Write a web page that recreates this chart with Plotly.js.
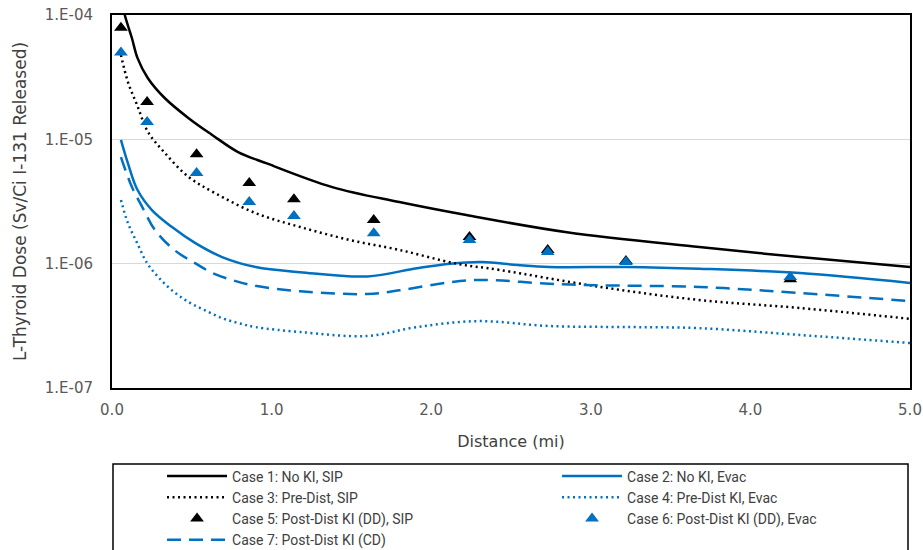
<!DOCTYPE html>
<html>
<head>
<meta charset="utf-8">
<script src="https://cdn.plot.ly/plotly-3.0.1.min.js"></script>
<style>html,body{margin:0;padding:0;background:#fff;}#chart{width:923px;height:550px;}</style>
</head>
<body>
<div id="chart"></div>
<script>
// ---- data ----
const seriesNames = [
  "Case 1: No KI, SIP",
  "Case 2: No KI, Evac",
  "Case 3: Pre-Dist, SIP",
  "Case 4: Pre-Dist KI, Evac",
  "Case 5: Post-Dist KI (DD), SIP",
  "Case 6: Post-Dist KI (DD), Evac",
  "Case 7: Post-Dist KI (CD)"
];

const case1Dist = [0.056, 0.08, 0.125, 0.16, 0.225, 0.33, 0.48, 0.63, 0.79, 0.97, 1.38, 1.80, 2.22, 2.85, 3.68, 4.31, 5.0];
const case1Dose = [1.4e-4, 1.0e-4, 6.5e-5, 4.5e-5, 3.1e-5, 2.15e-5, 1.48e-5, 1.08e-5, 7.9e-6, 6.4e-6, 4.13e-6, 3.13e-6, 2.46e-6, 1.79e-6, 1.36e-6, 1.13e-6, 9.4e-7];

const case2Dist = [0.056, 0.10, 0.16, 0.25, 0.376, 0.52, 0.69, 0.90, 1.18, 1.60, 1.91, 2.12, 2.32, 2.54, 2.74, 3.23, 3.68, 4.31, 5.0];
const case2Dose = [9.9e-6, 6.4e-6, 3.91e-6, 2.70e-6, 1.97e-6, 1.47e-6, 1.13e-6, 9.4e-7, 8.55e-7, 7.9e-7, 9.2e-7, 1.0e-6, 1.03e-6, 9.75e-7, 9.4e-7, 9.4e-7, 9.1e-7, 8.4e-7, 7.0e-7];

const case3Dist = [0.056, 0.10, 0.157, 0.225, 0.33, 0.48, 0.645, 0.90, 1.18, 1.49, 1.80, 2.16, 2.43, 3.06, 3.68, 4.31, 5.0];
const case3Dose = [4.77e-5, 2.89e-5, 1.89e-5, 1.15e-5, 7.8e-6, 4.98e-6, 3.70e-6, 2.55e-6, 1.97e-6, 1.55e-6, 1.29e-6, 1.0e-6, 8.9e-7, 6.5e-7, 5.1e-7, 4.4e-7, 3.6e-7];

const case4Dist = [0.056, 0.10, 0.157, 0.22, 0.29, 0.376, 0.48, 0.58, 0.69, 0.79, 0.90, 1.18, 1.60, 1.91, 2.29, 2.74, 3.26, 3.68, 4.31, 5.0];
const case4Dose = [3.25e-6, 2.12e-6, 1.47e-6, 1.01e-6, 7.8e-7, 6.1e-7, 4.91e-7, 4.23e-7, 3.65e-7, 3.33e-7, 3.09e-7, 2.82e-7, 2.62e-7, 3.09e-7, 3.45e-7, 3.15e-7, 3.09e-7, 3.03e-7, 2.67e-7, 2.30e-7];

const triangleDist = [0.056, 0.22, 0.53, 0.86, 1.14, 1.64, 2.24, 2.73, 3.22, 4.25];
const case5Dose = [7.9e-5, 2.0e-5, 7.6e-6, 4.45e-6, 3.3e-6, 2.25e-6, 1.64e-6, 1.29e-6, 1.05e-6, 7.5e-7];
const case6Dose = [5.0e-5, 1.38e-5, 5.36e-6, 3.13e-6, 2.42e-6, 1.76e-6, 1.55e-6, 1.24e-6, 1.03e-6, 7.8e-7];

const case7Dist = [0.056, 0.125, 0.19, 0.27, 0.39, 0.52, 0.63, 0.75, 0.88, 1.18, 1.60, 1.80, 2.12, 2.32, 2.74, 3.06, 3.68, 4.31, 5.0];
const case7Dose = [7.2e-6, 4.13e-6, 2.85e-6, 1.86e-6, 1.29e-6, 1.01e-6, 8.4e-7, 7.4e-7, 6.7e-7, 6.0e-7, 5.7e-7, 6.1e-7, 7.1e-7, 7.4e-7, 6.9e-7, 6.7e-7, 6.5e-7, 5.8e-7, 5.0e-7];

const yTickVals = [1e-7, 1e-6, 1e-5, 1e-4];
const yTickText = ["1.E-07", "1.E-06", "1.E-05", "1.E-04"];
const xTickVals = [0, 1, 2, 3, 4, 5];
const xTickText = ["0.0", "1.0", "2.0", "3.0", "4.0", "5.0"];

// ---- styling ----
const BLACK = "#000000";
const BLUE = "#0070C0";
const LW = 2.5;

function lineTrace(name, x, y, color, dash) {
  return {
    type: "scatter", mode: "lines", name: name, x: x, y: y,
    line: {color: color, width: LW, dash: dash, shape: "spline", smoothing: 1}
  };
}
function markerTrace(name, x, y, color) {
  return {
    type: "scatter", mode: "markers", name: name, x: x, y: y,
    marker: {symbol: "triangle-up", size: 12, color: color, line: {width: 0}}
  };
}

const traces = [
  lineTrace(seriesNames[0], case1Dist, case1Dose, BLACK, "solid"),
  lineTrace(seriesNames[1], case2Dist, case2Dose, BLUE, "solid"),
  lineTrace(seriesNames[2], case3Dist, case3Dose, BLACK, "2px,3.5px"),
  lineTrace(seriesNames[3], case4Dist, case4Dose, BLUE, "2px,3.5px"),
  markerTrace(seriesNames[4], triangleDist, case5Dose, BLACK),
  markerTrace(seriesNames[5], triangleDist, case6Dose, BLUE),
  lineTrace(seriesNames[6], case7Dist, case7Dose, BLUE, "14px,8px")
];

const tickFont = {family: "DejaVu Sans, Liberation Sans, sans-serif", size: 15, color: "#595959"};
const xTitleFont = {family: "DejaVu Sans, Liberation Sans, sans-serif", size: 16, color: "#404040"};
const yTitleFont = {family: "DejaVu Sans, Liberation Sans, sans-serif", size: 17, color: "#404040"};

const layout = {
  width: 923, height: 550,
  margin: {l: 112, r: 13, t: 15, b: 162, autoexpand: false},
  paper_bgcolor: "#ffffff", plot_bgcolor: "#ffffff",
  showlegend: true,
  xaxis: {
    range: [0, 5], tickvals: xTickVals, ticktext: xTickText,
    showgrid: false, zeroline: false,
    showline: true, mirror: true, linecolor: "#000000", linewidth: 2,
    ticks: "", tickfont: tickFont, ticklabelstandoff: 7,
    title: {text: "Distance (mi)", font: xTitleFont, standoff: 18}
  },
  yaxis: {
    type: "log", range: [-7, -4], tickvals: yTickVals, ticktext: yTickText,
    showgrid: true, gridcolor: "#d9d9d9", gridwidth: 1.5, zeroline: false,
    showline: true, mirror: true, linecolor: "#000000", linewidth: 2,
    ticks: "", tickfont: tickFont, ticklabelstandoff: 14,
    title: {text: "L-Thyroid Dose (Sv/Ci I-131 Released)", font: yTitleFont, standoff: 14}
  },
  legend: {
    orientation: "h",
    x: 0.0627, xanchor: "left",
    y: -0.1943, yanchor: "top",
    entrywidth: 320, entrywidthmode: "pixels",
    itemwidth: 60,
    bgcolor: "rgba(0,0,0,0)", borderwidth: 0,
    font: {family: "Liberation Sans Narrow, Roboto, Liberation Sans, sans-serif", size: 14, color: "#404040"},
    traceorder: "normal"
  },
  shapes: [{
    type: "rect", xref: "paper", yref: "paper",
    x0: 0.00125, x1: 0.9975, y0: -0.2038, y1: -0.45,
    line: {color: "#000000", width: 1.5}, fillcolor: "rgba(0,0,0,0)", layer: "below"
  }]
};

Plotly.newPlot("chart", traces, layout, {displayModeBar: false, staticPlot: true});
</script>
</body>
</html>
